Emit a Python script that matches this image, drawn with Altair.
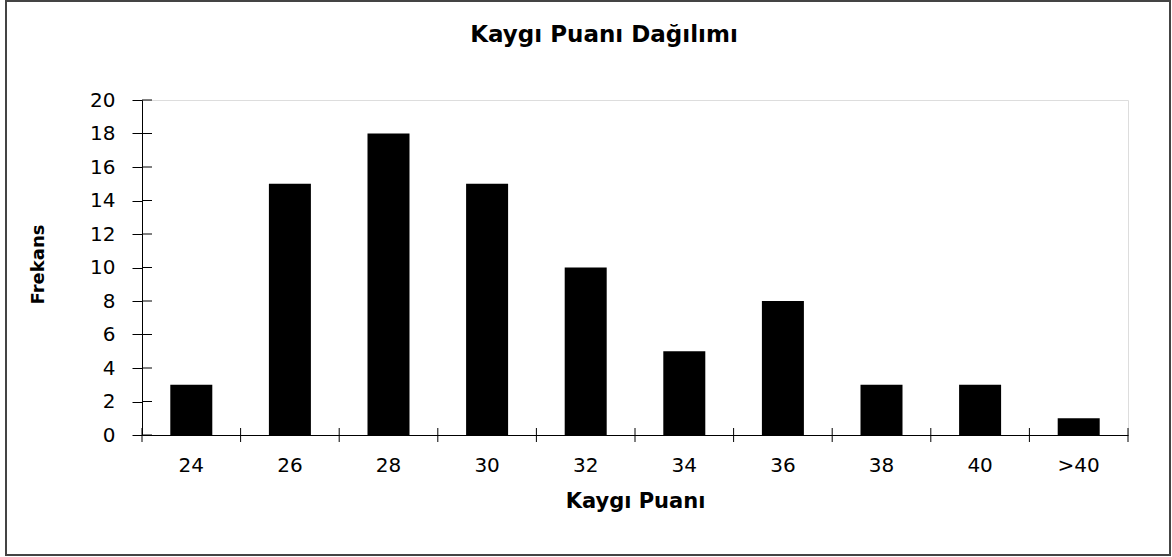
import altair as alt
import pandas as pd

title_text = "Kaygı Puanı Dağılımı"
x_title = "Kaygı Puanı"
y_title = "Frekans"
categories = ["24", "26", "28", "30", "32", "34", "36", "38", "40", ">40"]
frequencies = [3, 15, 18, 15, 10, 5, 8, 3, 3, 1]
y_ticks = [0, 2, 4, 6, 8, 10, 12, 14, 16, 18, 20]

bars_df = pd.DataFrame({"cat": categories, "freq": frequencies})
yt_df = pd.DataFrame({"freq": y_ticks})

W, H = 986, 335
FONT = "DejaVu Sans"

xscale = alt.Scale(domain=categories, paddingInner=0, paddingOuter=0)
yscale = alt.Scale(domain=[0, 20], nice=False)

xaxis = alt.Axis(title=x_title, labelAngle=0, ticks=False,
                 labelPadding=20, labelFontSize=20, labelColor="black",
                 labelFont=FONT, domainColor="black", domainWidth=1,
                 titleFont=FONT, titleFontSize=21, titleFontWeight="bold",
                 titleColor="black", titleBaseline="alphabetic", titleY=72)
yaxis = alt.Axis(title=y_title, values=y_ticks, grid=False,
                 tickSize=10, tickColor="black", labelPadding=17,
                 labelFontSize=20, labelColor="black", labelFont=FONT,
                 domainColor="black", domainWidth=1,
                 titleFont=FONT, titleFontSize=18, titleFontWeight="bold",
                 titleColor="black", titleBaseline="alphabetic",
                 titleAngle=-90, titleX=-99, titleY=164, titleAlign="center")

bars = alt.Chart(bars_df).mark_bar(color="black", size=42).encode(
    x=alt.X("cat:N", scale=xscale, sort=categories, axis=xaxis),
    y=alt.Y("freq:Q", scale=yscale, axis=yaxis),
)

# inner half of the crossing y ticks
ytick_in = alt.Chart(yt_df).mark_rule(color="black", strokeWidth=1).encode(
    y=alt.Y("freq:Q", scale=yscale, axis=yaxis),
    x=alt.value(0), x2=alt.value(10),
)

# crossing x ticks at band boundaries
xtick = alt.Chart(bars_df).mark_rule(color="black", strokeWidth=1).encode(
    x=alt.X("cat:N", scale=xscale, sort=categories, bandPosition=0, axis=xaxis),
    y=alt.value(H - 7), y2=alt.value(H + 7),
)
xtick_end = alt.Chart(alt.Data(values=[{"e": 1}])).mark_rule(
    color="black", strokeWidth=1).encode(
    x=alt.value(W), y=alt.value(H - 7), y2=alt.value(H + 7),
)

frame = alt.Chart(alt.Data(values=[{"f": 1}])).mark_rect(
    fillOpacity=0, stroke="#444444", strokeWidth=2).encode(
    x=alt.value(-136), x2=alt.value(W + 42), y=alt.value(-99), y2=alt.value(H + 120),
)

title = alt.Chart(alt.Data(values=[{"t": title_text}])).mark_text(
    font=FONT, fontSize=23, fontWeight="bold", color="black",
    align="center", baseline="alphabetic").encode(
    text="t:N", x=alt.value(462), y=alt.value(-58),
)

chart = alt.layer(bars, ytick_in, xtick, xtick_end, frame, title).properties(
    width=W, height=H,
    autosize=alt.AutoSizeParams(type="none"),
    padding={"left": 142, "top": 100, "right": 44, "bottom": 122},
).configure_view(stroke="#888888", strokeWidth=1.5).configure(background="white")

chart.save("out.html", embed_options={"renderer": "svg", "actions": False})
